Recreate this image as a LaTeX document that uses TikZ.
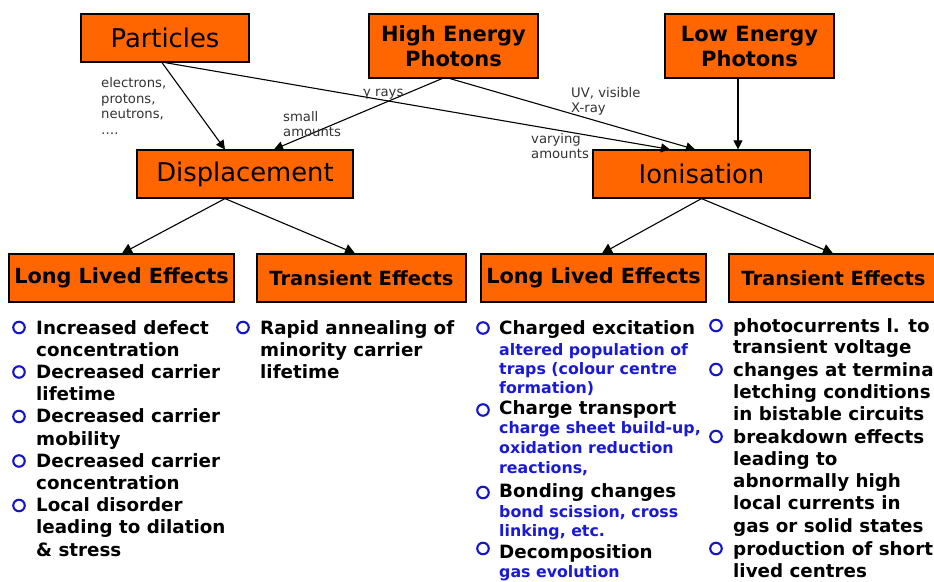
\documentclass[tikz,border=0pt]{standalone}
\usepackage{fontspec}
\setmainfont{DejaVu Sans}
\usetikzlibrary{arrows.meta}
\definecolor{boxorange}{RGB}{255,102,0}
\definecolor{labelgray}{RGB}{51,51,51}
\definecolor{subblue}{RGB}{26,26,214}
\definecolor{bulblue}{RGB}{20,20,200}
\tikzset{
  box/.style={draw=black, line width=1.2pt, fill=boxorange, inner sep=0pt, minimum height=48pt, align=center},
  bigtxt/.style={font=\fontsize{25.8}{30}\selectfont},
  hdtxt/.style={font=\fontsize{21}{25}\selectfont\bfseries},
  lbl/.style={anchor=base west, inner sep=0pt, text=labelgray, font=\fontsize{13.2}{15.7}\selectfont},
  itm/.style={anchor=base west, inner sep=0pt, font=\fontsize{18.3}{22}\selectfont\bfseries},
  subitm/.style={anchor=base west, inner sep=0pt, text=subblue, font=\fontsize{15.8}{19}\selectfont\bfseries},
  bul/.style={circle, draw=bulblue, line width=2.1pt, minimum size=11.5pt, inner sep=0pt},
  upar/.style={line width=1.1pt, -{Triangle[length=9pt,width=9pt]}},
  loar/.style={line width=1.1pt, -{Triangle[length=10pt,width=11pt]}}
}
\begin{document}
\begin{tikzpicture}[x=1pt, y=-1pt]
\useasboundingbox (0,0) rectangle (934,581);
\clip (0,0) rectangle (934,581);
\fill[white] (0,0) rectangle (934,581);

% boxes
\node[box, bigtxt, minimum width=168pt] (part) at (165,38) {Particles};
\node[box, hdtxt, minimum width=169pt, minimum height=64pt] (hep) at (453.5,46) {High Energy\\Photons};
\node[box, hdtxt, minimum width=169pt, minimum height=64pt] (lep) at (749.5,46) {Low Energy\\Photons};
\node[box, bigtxt, minimum width=216pt] (disp) at (245,174) {Displacement};
\node[box, bigtxt, minimum width=217pt] (ion) at (701.5,174) {Ionisation};
\node[box, font=\fontsize{20.8}{25}\selectfont\bfseries, minimum width=225pt] (lle1) at (121.5,278) {Long Lived Effects};
\node[box, font=\fontsize{19.5}{25}\selectfont\bfseries, minimum width=209pt] (te1) at (361.5,278) {Transient Effects};
\node[box, font=\fontsize{20.8}{25}\selectfont\bfseries, minimum width=225pt] (lle2) at (593.5,278) {Long Lived Effects};
\node[box, font=\fontsize{19.5}{25}\selectfont\bfseries, minimum width=209pt] (te2) at (833.5,278) {Transient Effects};

% upper arrows
\draw[upar] ([xshift=-3pt]part.south) -- ([xshift=-20pt]disp.north);
\draw[upar] (part.south) -- ([xshift=-31.5pt]ion.north);
\draw[upar] ([xshift=-11.5pt]hep.south) -- ([xshift=29pt]disp.north);
\draw[upar] ([xshift=-3.5pt]hep.south) -- ([xshift=-6.5pt]ion.north);
\draw[upar] ([xshift=-11.5pt]lep.south) -- ([xshift=36.5pt]ion.north);

% lower arrows
\draw[loar] ([xshift=-20pt]disp.south) -- ([xshift=0.5pt]lle1.north);
\draw[loar] ([xshift=-20pt]disp.south) -- ([xshift=-6.5pt]te1.north);
\draw[loar] (ion.south) -- ([xshift=8.5pt]lle2.north);
\draw[loar] (ion.south) -- ([xshift=-0.5pt]te2.north);

% connector labels
\node[lbl] (l1) at (101,87) {electrons,};
\node[lbl] (l2) at (101,103) {protons,};
\node[lbl] (l3) at (101,118.5) {neutrons,};
\node[lbl] (l4) at (101,134) {….};
\node[lbl] (l5) at (363,96) {γ rays};
\node[lbl] (l6) at (283,121) {small};
\node[lbl] (l7) at (283,136.5) {amounts};
\node[lbl] (l8) at (571,97) {UV, visible};
\node[lbl] (l9) at (571,112.5) {X-ray};
\node[lbl] (l10) at (531,143) {varying};
\node[lbl] (l11) at (531,158.5) {amounts};

% left long lived effects
\foreach \t/\y [count=\i] in {{Increased defect}/334, {concentration}/356.2, {Decreased carrier}/378.4, {lifetime}/400.6, {Decreased carrier}/422.8, {mobility}/445, {Decreased carrier}/467.2, {concentration}/489.4, {Local disorder}/511.6, {leading to dilation}/533.8, {\& stress}/556}
  \node[itm, name=a\i] at (36,\y) {\t};
\foreach \y [count=\i] in {327.5, 372, 416.5, 461, 505.5}
  \node[bul, name=ab\i] at (19,\y) {};

% left transient effects
\foreach \t/\y [count=\i] in {{Rapid annealing of}/334, {minority carrier}/356.2, {lifetime}/378.4}
  \node[itm, name=b\i] at (260,\y) {\t};
\node[bul] (bb1) at (243,327.5) {};

% right long lived effects
\foreach \t/\y [count=\i] in {{Charged excitation}/334, {Charge transport}/414, {Bonding changes}/497, {Decomposition}/558}
  \node[itm, name=c\i] at (499,\y) {\t};
\foreach \t/\y [count=\i] in {{altered population of}/355, {traps (colour centre}/374, {formation)}/393, {charge sheet build-up,}/433, {oxidation reduction}/453, {reactions,}/473, {bond scission, cross}/517, {linking, etc.}/536.5, {gas evolution}/577}
  \node[subitm, name=cs\i] at (499,\y) {\t};
\foreach \y [count=\i] in {328, 410, 492.5, 548.5}
  \node[bul, name=cb\i] at (483,\y) {};

% right transient effects
\foreach \t/\y [count=\i] in {{photocurrents l. to}/332, {transient voltage}/353.5, {changes at termina}/376.5, {letching conditions}/398.5, {in bistable circuits}/420.5, {breakdown effects}/443, {leading to}/465.5, {abnormally high}/487.5, {local currents in}/509.5, {gas or solid states}/532.5, {production of short}/555, {lived centres}/577}
  \node[itm, name=d\i] at (733,\y) {\t};
\foreach \y [count=\i] in {325.5, 369.5, 436.5, 548.5}
  \node[bul, name=db\i] at (716,\y) {};
\end{tikzpicture}
\end{document}
